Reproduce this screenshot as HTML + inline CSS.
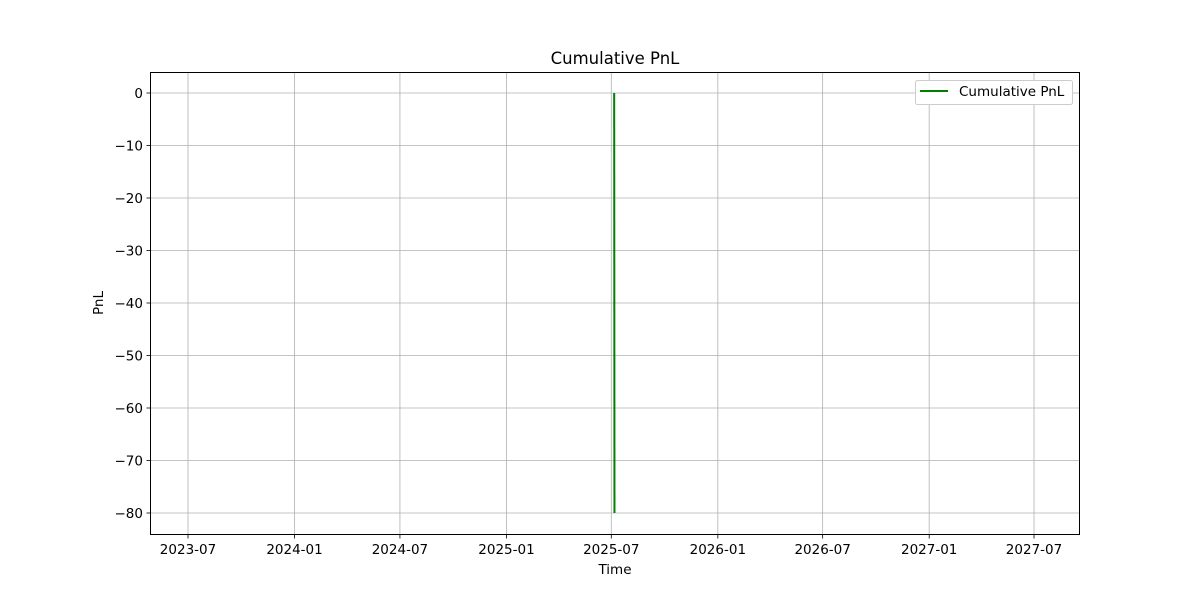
<!DOCTYPE html>
<html><head><meta charset="utf-8"><style>
body{margin:0;background:#fff;font-family:"DejaVu Sans","Liberation Sans",sans-serif}
svg text{font-family:"DejaVu Sans","Liberation Sans",sans-serif;fill:#000}
</style></head><body>
<svg id="chart" width="1200" height="600" xmlns="http://www.w3.org/2000/svg">
<rect width="1200" height="600" fill="#fff"/>
<g id="grid"></g>
<g id="series"></g>
<rect x="150.5" y="72.5" width="929" height="462" fill="none" stroke="#000" stroke-width="1"/>
<g id="ticks"></g>
<text x="615" y="64" font-size="16.5" text-anchor="middle">Cumulative PnL</text>
<text x="615" y="574" font-size="13.5" text-anchor="middle">Time</text>
<text x="103" y="303" font-size="13.5" text-anchor="middle" transform="rotate(-90 103 303)">PnL</text>
<g>
<rect x="915.5" y="80.5" width="157" height="24" rx="2" fill="#fff" stroke="#ccc"/>
<line x1="920" y1="91" x2="948" y2="91" stroke="green" stroke-width="2"/>
<text x="959" y="96" font-size="13.5">Cumulative PnL</text>
</g>
</svg>
<script>
const dates = ['2025-07-06T00:00:00Z','2025-07-06T12:00:00Z'];
const pnl = [0, -80];
const xTickLabels = ['2023-07','2024-01','2024-07','2025-01','2025-07','2026-01','2026-07','2027-01','2027-07'];
const yTicks = [0,-10,-20,-30,-40,-50,-60,-70,-80];

const NS='http://www.w3.org/2000/svg';
const t0=Date.parse('2023-07-01T00:00:00Z'), t1=Date.parse('2027-07-01T00:00:00Z');
function xs(d){return 188+(Date.parse(d)-t0)/(t1-t0)*846;}
function ys(v){return 93+(0-v)/80*420;}
function mk(tag,attrs,parent){const e=document.createElementNS(NS,tag);for(const k in attrs)e.setAttribute(k,attrs[k]);parent.appendChild(e);return e;}
const grid=document.getElementById('grid'), ticks=document.getElementById('ticks'), series=document.getElementById('series');
xTickLabels.forEach(l=>{
  const x=xs(l+'-01T00:00:00Z');
  const g=mk('line',{x1:x,x2:x,y1:72,y2:535,stroke:'#b0b0b0','stroke-width':0.8},grid);
  
  
  const t=mk('line',{x1:x,x2:x,y1:535,y2:538.5,stroke:'#000','stroke-width':0.8},ticks);
  
  
  const tx=mk('text',{x:x,y:554,'font-size':13.5,'text-anchor':'middle'},ticks);
  tx.textContent=l;
  
  
});
yTicks.forEach(v=>{
  const y=ys(v);
  const g=mk('line',{x1:150,x2:1080,y1:y,y2:y,stroke:'#b0b0b0','stroke-width':0.8},grid);
  
  
  const t=mk('line',{x1:146.5,x2:150,y1:y,y2:y,stroke:'#000','stroke-width':0.8},ticks);
  
  
  const tx=mk('text',{x:143,y:y+5,'font-size':13.5,'text-anchor':'end'},ticks);
  tx.textContent=v<0?'\u2212'+(-v):String(v);
  
  
});
const pts=dates.map((d,i)=>xs(d).toFixed(2)+','+ys(pnl[i]).toFixed(2)).join(' ');
const pl=mk('polyline',{points:pts,fill:'none',stroke:'green','stroke-width':2},series);


</script>
</body></html>
